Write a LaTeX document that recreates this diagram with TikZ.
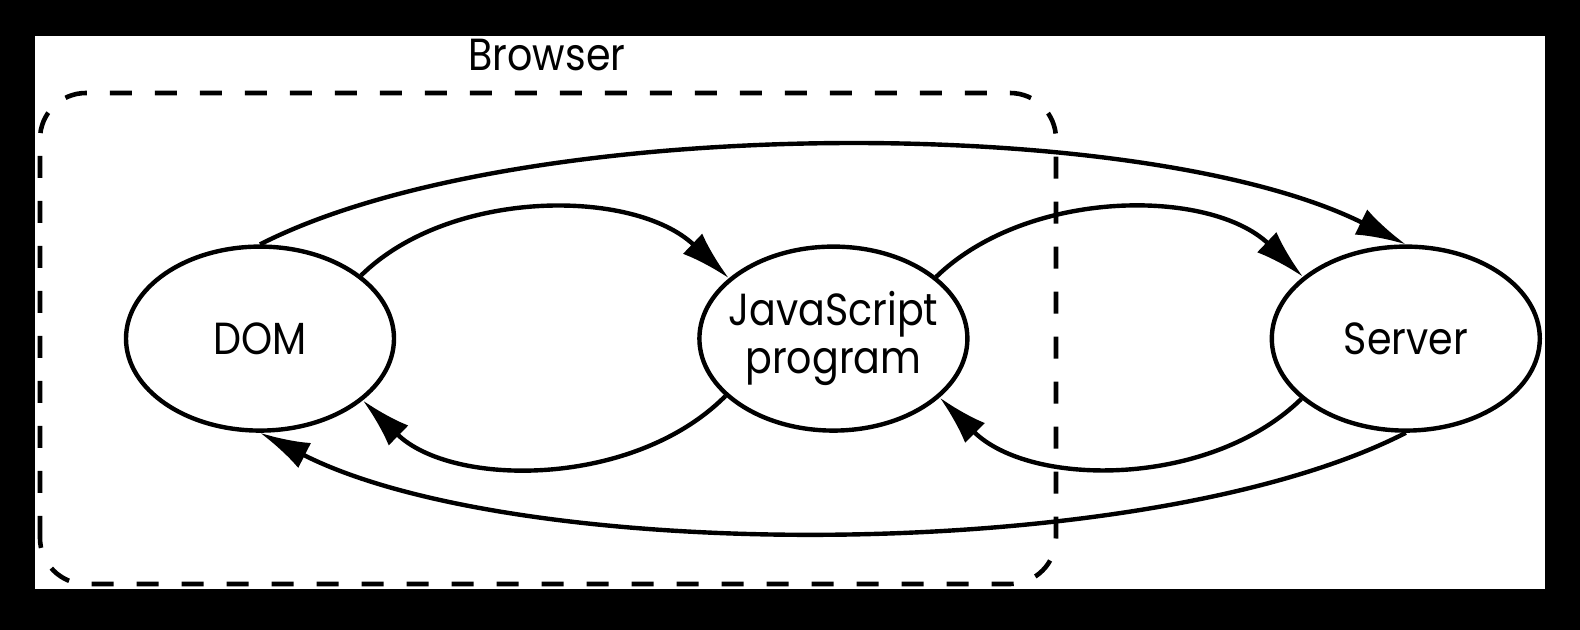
\documentclass[tikz,border=0pt]{standalone}
\usepackage{fontspec}
\setmainfont{Poppins}[FakeStretch=0.88]
\usetikzlibrary{arrows.meta,shapes}

\begin{document}
\begin{tikzpicture}[>={Latex[length=25bp,width=14bp]}, line join=bevel,
  lbl/.style={font=\fontsize{22.5bp}{24bp}\selectfont},
  state/.style={lbl, draw, ellipse, line width=2.2bp, inner sep=-6bp,
    minimum width=134bp, minimum height=92bp, align=center},
  flow/.style={->, line width=2.2bp}]
%%
\fill[black] (0bp,0bp) rectangle (790bp,315bp);
\fill[white] (17.5bp,20.5bp) rectangle (772.5bp,297bp);
\draw[line width=2.3bp, dash pattern=on 11bp off 11.5bp, rounded corners=23bp]
  (20bp,23bp) rectangle (528bp,268.5bp);
\node (browser) at (273.5bp,279.7bp) [lbl, anchor=base] {Browser};

\node (dom) at (130bp,145.7bp) [state] {DOM};
\node (js_program) at (416.7bp,145.7bp) [state] {JavaScript\\program};
\node (server) at (702.9bp,145.7bp) [state] {Server};

\draw [flow]
  (dom.32) .. controls (225bp,221bp) and (317bp,221bp)
  .. (js_program.150);
\draw [flow]
  (js_program.208) .. controls (317bp,71bp) and (226bp,71bp)
  .. (dom.-31);

\draw [flow]
  (js_program.31) .. controls (514bp,221bp) and (605bp,221bp)
  .. (server.149);
\draw [flow]
  (server.210) .. controls (605bp,71bp) and (515bp,71bp)
  .. (js_program.-29);

\draw [flow]
  (dom.90) .. controls (259bp,258.5bp) and (571bp,258.5bp)
  .. (server.90);
\draw [flow]
  (server.270) .. controls (574bp,32.5bp) and (260bp,32.5bp)
  .. (dom.270);
\end{tikzpicture}
\end{document}
